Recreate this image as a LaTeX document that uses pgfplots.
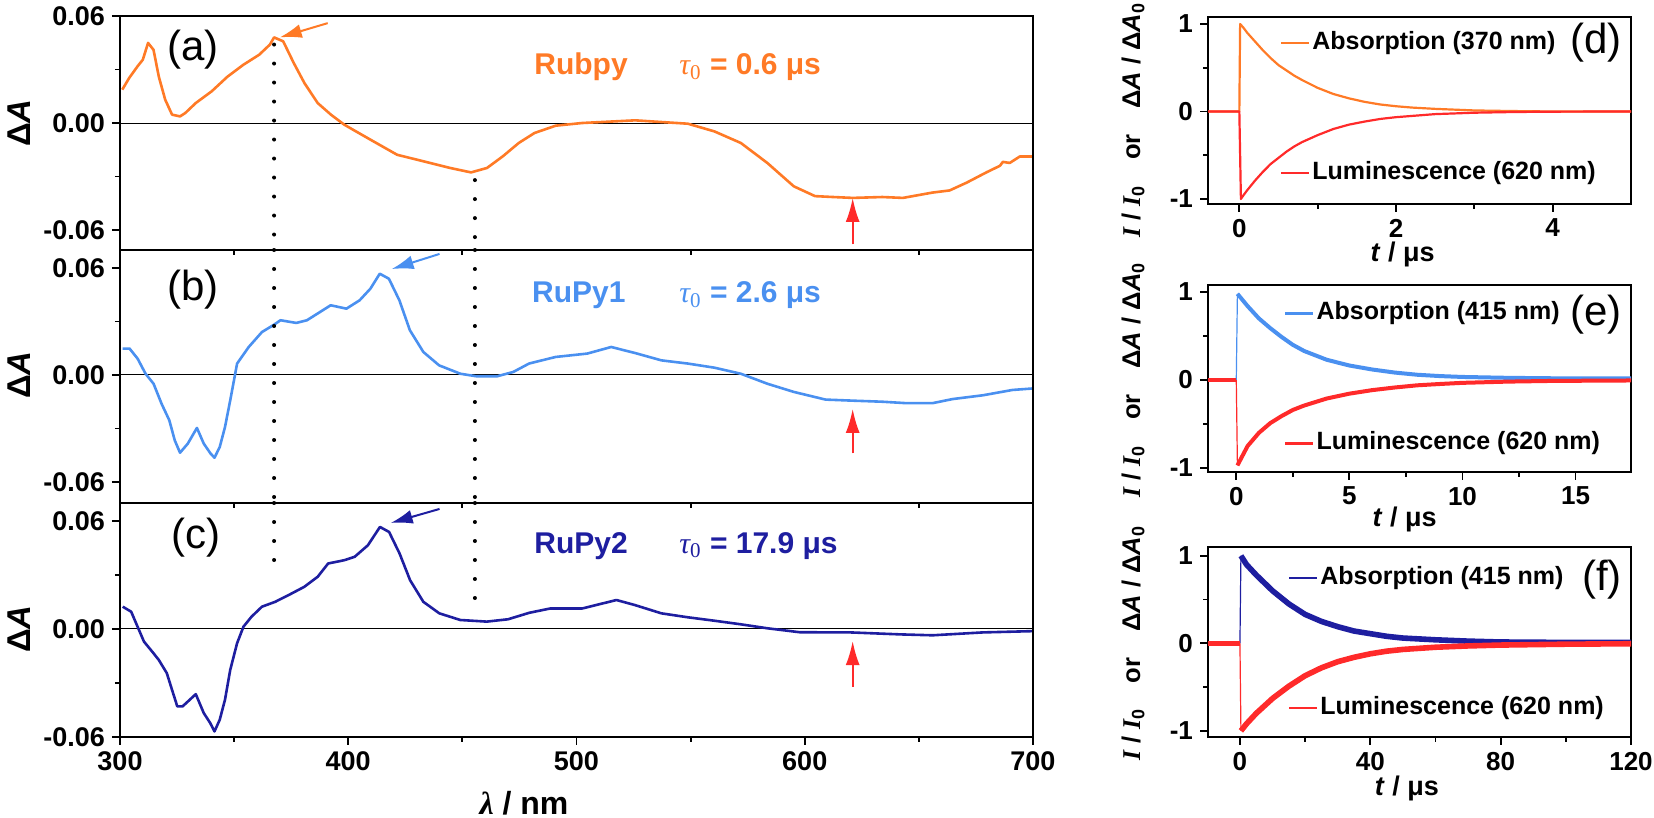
\documentclass[border=0pt]{standalone}
\usepackage{fontspec}
\setmainfont{Liberation Sans}
\newfontfamily\serif{Liberation Serif}
\usepackage{pgfplots}
\pgfplotsset{compat=1.18}
\usetikzlibrary{arrows.meta}

\definecolor{rub}{HTML}{FF7A26}
\definecolor{pyone}{HTML}{4A90F0}
\definecolor{pytwo}{HTML}{1E1EA0}
\definecolor{lum}{HTML}{FF2A2A}

\tikzset{dotl/.style={black, line width=2pt, line cap=round, dash pattern=on 0pt off 9.5pt}}

\pgfplotsset{
 basepanel/.style={scale only axis, clip=false,
   tick align=outside, tick pos=left,
   major tick length=4pt, minor tick length=2.5pt,
   tick style={black, line width=0.9pt},
   /pgf/number format/assume math mode=true,
   every axis plot/.append style={line join=round}},
 lpanel/.style={basepanel, width=456.5pt, xmin=300, xmax=700,
   tick label style={font=\fontsize{13.5}{13.5}\selectfont\bfseries},
   axis line style={line width=1.2pt},
   xtick={300,400,...,700}, minor xtick={350,450,...,650},
   ytick={-0.06,0,0.06}, minor ytick={-0.03,0.03},
   scaled y ticks=false,
   yticklabel style={/pgf/number format/.cd, fixed, fixed zerofill, precision=2}},
 rpanel/.style={basepanel, width=211.5pt,
   tick label style={font=\fontsize{13}{13}\selectfont\bfseries},
   axis line style={line width=1pt},
   ytick={-1,0,1}, minor ytick={-0.5,0.5},
   legend style={draw=none, fill=none, anchor=west,
     font=\fontsize{12.5}{12.5}\selectfont\bfseries,
     row sep=51.5pt, nodes={inner sep=1pt, text height=9pt, text depth=2.5pt}},
   legend cell align=left,
   legend image code/.code={\draw[#1, line width=1.2pt] (0pt,0pt) -- (14pt,0pt);}},
}

\newcommand{\lettfont}{\fontsize{21}{21}\selectfont}
\newcommand{\namefont}{\fontsize{15}{15}\selectfont\bfseries}
\newcommand{\dA}{\textbf{Δ\textit{A}}}
\newcommand{\rylab}{\bfseries{\serif\itshape I} / {\serif\itshape I}\textsubscript{0}\quad or\quad Δ\textit{A} / Δ\textit{A}\textsubscript{0}}
\newcommand{\tlab}{\textbf{\textit{t} / μs}}
\newcommand{\ryfont}{\fontsize{12.8}{12.8}\selectfont}
\newcommand{\tfont}{\fontsize{13.5}{13.5}\selectfont}

\begin{document}
\begin{tikzpicture}
\path[use as bounding box] (0,0) rectangle (827pt,409pt);

% ---------------- (a) Rubpy ----------------
\begin{axis}[lpanel, at={(60pt,284pt)}, anchor=south west, height=117pt,
  ymin=-0.0712, ymax=0.06, xmajorticks=false, xminorticks=false]
\addplot[black, line width=0.5pt, forget plot] coordinates {(300,0) (700,0)};
\addplot[rub, line width=1.3pt] coordinates {
(301,0.0187) (304,0.0252) (307.7,0.0318) (310,0.0355) (312.3,0.0449) (314.7,0.041)
(317,0.026) (319.8,0.0131) (322.8,0.0047) (326.3,0.0037) (328.6,0.0056) (333.2,0.0112)
(340.2,0.0178) (347.1,0.026) (354.1,0.0327) (361,0.0383) (365.7,0.044) (367.5,0.048)
(371.5,0.0458) (376.1,0.0337) (380.8,0.0224) (386.6,0.0112) (392.4,0.0047) (398.2,-0.0009)
(409.8,-0.0094) (421.4,-0.0178) (433,-0.0215) (444.6,-0.0252) (453.8,-0.0277) (460.8,-0.0252)
(467.7,-0.0187) (474.7,-0.0112) (481.6,-0.0056) (490.9,-0.0015) (502.5,0) (525.7,0.0015)
(548.8,-0.0004) (560.4,-0.0047) (572,-0.0112) (583.6,-0.0224) (595.2,-0.0355) (604.5,-0.041)
(612.4,-0.0415) (621,-0.042) (634,-0.0415) (643,-0.042) (656,-0.039) (663.5,-0.0378)
(671,-0.0334) (679.7,-0.0276) (685.5,-0.024) (686.8,-0.0218) (689.8,-0.0224) (694.2,-0.0188)
(699.5,-0.0188)};
\draw[dotl] (axis cs:367.5,0.044) -- (axis cs:367.5,-0.0712);
\draw[dotl] (axis cs:455.5,-0.032) -- (axis cs:455.5,-0.0712);
\draw[rub, line width=1pt, -{Latex[length=11pt,width=7pt]}] (axis cs:391,0.056) -- (axis cs:370,0.048);
\draw[lum, line width=1pt, -{Latex[length=12pt,width=7pt]}] (axis cs:621,-0.068) -- (axis cs:621,-0.042);
\node[font=\lettfont] at (axis cs:332,0.041) {(a)};
\node[font=\namefont, text=rub, anchor=base] at (axis cs:502,0.027) {Rubpy};
\node[font=\namefont, text=rub, anchor=base west] at (axis cs:542,0.027) {{\serif\mdseries\itshape τ}{\serif\mdseries\textsubscript{0}} = 0.6 μs};
\node[rotate=90, font=\fontsize{16.5}{16.5}\selectfont] at (axis cs:256,0) {\dA};
\end{axis}

% ---------------- (b) RuPy1 ----------------
\begin{axis}[lpanel, at={(60pt,157.5pt)}, anchor=south west, height=126.5pt,
  ymin=-0.0718, ymax=0.0701, xmajorticks=false, xminorticks=false]
\addplot[black, line width=0.5pt, forget plot] coordinates {(300,0) (700,0)};
\addplot[pyone, line width=1.3pt] coordinates {
(301.2,0.0148) (304.2,0.0148) (307.7,0.0092) (311.2,0.0007) (314.7,-0.0049) (318.2,-0.0161)
(321.6,-0.0254) (324,-0.0367) (326.3,-0.0436) (329.7,-0.0385) (333.7,-0.0297) (336.7,-0.0385)
(339.7,-0.0441) (341.4,-0.0464) (343.7,-0.0404) (346,-0.0292) (348.3,-0.0142) (351.3,0.0064)
(356.4,0.0157) (362.2,0.0241) (367.5,0.0282) (370.3,0.0307) (377.2,0.0292) (381.9,0.0307)
(386.5,0.0344) (392.3,0.0391) (399.2,0.0372) (405,0.0419) (409.7,0.0484) (413.8,0.0568)
(417.8,0.054) (422.4,0.0419) (427,0.0251) (432.9,0.0129) (439.8,0.0054) (449.1,0.0007)
(456,-0.0007) (465.3,-0.0007) (472.3,0.0017) (479.2,0.0064) (490.8,0.0101) (504.7,0.012)
(515.2,0.0157) (525.7,0.0123) (537.2,0.0082) (548.8,0.0064) (560.4,0.0041) (572,0.0007)
(583.6,-0.0049) (595.2,-0.0095) (609.1,-0.0138) (621,-0.0144) (634,-0.015) (644.4,-0.0158)
(656,-0.0158) (664.8,-0.0135) (678,-0.0114) (691,-0.0084) (699.5,-0.0076)};
\draw[dotl] (axis cs:367.5,0.0701) -- (axis cs:367.5,-0.0718);
\draw[dotl] (axis cs:455.5,0.0701) -- (axis cs:455.5,-0.0718);
\draw[pyone, line width=1pt, -{Latex[length=11pt,width=7pt]}] (axis cs:440,0.0679) -- (axis cs:419,0.0594);
\draw[lum, line width=1pt, -{Latex[length=12pt,width=7pt]}] (axis cs:621,-0.044) -- (axis cs:621,-0.019);
\node[font=\lettfont] at (axis cs:332,0.0477) {(b)};
\node[font=\namefont, text=pyone, anchor=base] at (axis cs:501,0.0405) {RuPy1};
\node[font=\namefont, text=pyone, anchor=base west] at (axis cs:542,0.0405) {{\serif\mdseries\itshape τ}{\serif\mdseries\textsubscript{0}} = 2.6 μs};
\node[rotate=90, font=\fontsize{16.5}{16.5}\selectfont] at (axis cs:256,0) {\dA};
\end{axis}

% ---------------- (c) RuPy2 ----------------
\begin{axis}[lpanel, at={(60pt,40.5pt)}, anchor=south west, height=117pt,
  ymin=-0.06, ymax=0.070]
\addplot[black, line width=0.5pt, forget plot] coordinates {(300,0) (700,0)};
\addplot[pytwo, line width=1.3pt] coordinates {
(301.2,0.0124) (304.9,0.0096) (307.7,0.0013) (310.5,-0.007) (314.7,-0.0135) (317,-0.0172)
(320.5,-0.0245) (322.8,-0.0338) (325.1,-0.043) (327.4,-0.043) (329.8,-0.0402) (333.2,-0.0362)
(336.7,-0.0467) (339.5,-0.0522) (341.4,-0.0569) (343.7,-0.0504) (346,-0.0393) (348.3,-0.0227)
(351.3,-0.0079) (354.1,0.0013) (357.6,0.0068) (362.2,0.0124) (368,0.0151) (373.8,0.0188)
(380.7,0.0234) (386.6,0.029) (391.2,0.0364) (398.2,0.0382) (402.8,0.0401) (408.6,0.0465)
(413.9,0.0567) (417.9,0.0539) (422.5,0.0419) (427.1,0.0271) (432.9,0.0151) (439.9,0.0087)
(449.1,0.005) (460.7,0.0041) (470,0.0054) (479.3,0.009) (488.5,0.0114) (502.5,0.0114)
(517.5,0.0161) (525.6,0.0133) (537.2,0.0087) (548.8,0.0065) (560.4,0.0046) (572,0.0026)
(583.6,0.0004) (597.8,-0.0018) (620,-0.0019) (642,-0.003) (656,-0.0035) (678,-0.0019)
(699.5,-0.0012)};
\draw[dotl] (axis cs:367.5,0.070) -- (axis cs:367.5,0.029);
\draw[dotl] (axis cs:455.5,0.070) -- (axis cs:455.5,0.0172);
\draw[pytwo, line width=1pt, -{Latex[length=11pt,width=7pt]}] (axis cs:440,0.0667) -- (axis cs:418.6,0.0589);
\draw[lum, line width=1pt, -{Latex[length=12pt,width=7pt]}] (axis cs:621,-0.032) -- (axis cs:621,-0.0067);
\node[font=\lettfont] at (axis cs:333.3,0.0506) {(c)};
\node[font=\namefont, text=pytwo, anchor=base] at (axis cs:502,0.042) {RuPy2};
\node[font=\namefont, text=pytwo, anchor=base west] at (axis cs:542,0.042) {{\serif\mdseries\itshape τ}{\serif\mdseries\textsubscript{0}} = 17.9 μs};
\node[rotate=90, font=\fontsize{16.5}{16.5}\selectfont] at (axis cs:256,0) {\dA};
\node[font=\fontsize{16}{16}\selectfont\bfseries] at (axis cs:477,-0.0967) {{\serif\itshape λ} / nm};
\end{axis}

% ---------------- (d) ----------------
\begin{axis}[rpanel, at={(604pt,307pt)}, anchor=south west, height=93.5pt,
  xmin=-0.4, xmax=5, ymin=-1.057, ymax=1.08,
  xtick={0,2,4}, minor xtick={1,3},
  legend style={at={(0.155,0.513)}}]
\addplot[rub, line width=1.1pt] coordinates {
(-0.4,0) (-0.2,0) (0,0) (0.01,1.0) (0.05,0.96) (0.1,0.9) (0.2,0.8) (0.3,0.7) (0.4,0.61)
(0.5,0.53) (0.6,0.47) (0.7,0.41) (0.8,0.36) (1.0,0.27) (1.2,0.2) (1.4,0.15) (1.6,0.11)
(1.8,0.08) (2.0,0.06) (2.2,0.045) (2.5,0.03) (3.0,0.012) (3.5,0.005) (4.0,0) (5.0,0)};
\addlegendentry{Absorption (370 nm)}
\addplot[lum, line width=1.1pt] coordinates {
(-0.4,0) (0,0) (0.02,-1.0) (0.05,-0.96) (0.1,-0.9) (0.2,-0.79) (0.3,-0.69) (0.4,-0.6)
(0.5,-0.53) (0.6,-0.46) (0.7,-0.4) (0.8,-0.35) (1.0,-0.27) (1.2,-0.2) (1.4,-0.15)
(1.6,-0.115) (1.8,-0.085) (2.0,-0.065) (2.5,-0.03) (3.0,-0.014) (3.5,-0.006) (4.0,-0.002) (5.0,0)};
\addlegendentry{Luminescence (620 nm)}
\node[font=\lettfont, anchor=east] at (rel axis cs:0.995,0.861) {(d)};
\node[rotate=90, font=\ryfont] at (axis cs:-1.356,-0.1) {\rylab};
\node[font=\tfont] at (rel axis cs:0.46,-0.272) {\tlab};
\end{axis}

% ---------------- (e) ----------------
\begin{axis}[rpanel, at={(604pt,173pt)}, anchor=south west, height=93.5pt,
  xmin=-1.25, xmax=17.45, ymin=-1.045, ymax=1.08,
  xtick={0,5,10,15}, minor xtick={2.5,7.5,12.5},
  legend style={at={(0.165,0.5)}}]
\addplot[pyone, line width=2pt, forget plot] coordinates {(-1.25,0) (0,0)};
\addplot[pyone, line width=0.6pt, forget plot] coordinates {(0,0) (0.05,0.98)};
\addplot[pyone, line width=2pt] coordinates {
(0.05,0.98) (0.5,0.84) (1,0.7) (1.5,0.59) (2,0.49) (2.5,0.4) (3,0.33) (3.5,0.28) (4,0.23)
(5,0.165) (6,0.12) (7,0.085) (8,0.06) (9,0.045) (10,0.035) (11,0.03) (12,0.025) (14,0.02) (17.45,0.02)};
\addlegendentry{Absorption (415 nm)}
\addplot[lum, line width=2pt, forget plot] coordinates {(-1.25,0) (0,0)};
\addplot[lum, line width=0.6pt, forget plot] coordinates {(0,0) (0.05,-0.97)};
\addplot[lum, line width=2pt] coordinates {
(0.05,-0.97) (0.5,-0.75) (1,-0.6) (1.5,-0.49) (2,-0.41) (2.5,-0.34) (3,-0.29) (3.5,-0.25)
(4,-0.21) (5,-0.155) (6,-0.115) (7,-0.085) (8,-0.06) (9,-0.045) (10,-0.032) (12,-0.018)
(14,-0.01) (17.45,-0.005)};
\addlegendentry{Luminescence (620 nm)}
\node[font=\lettfont, anchor=east] at (rel axis cs:0.995,0.84) {(e)};
\node[rotate=90, font=\ryfont] at (axis cs:-4.56,0) {\rylab};
\node[font=\tfont] at (rel axis cs:0.465,-0.255) {\tlab};
\end{axis}

% ---------------- (f) ----------------
\begin{axis}[rpanel, at={(604pt,40.5pt)}, anchor=south west, height=95pt,
  xmin=-9.8, xmax=120, ymin=-1.07, ymax=1.10,
  xtick={0,40,80,120}, minor xtick={20,60,100},
  legend style={at={(0.174,0.495)}}]
\addplot[pytwo, line width=2.8pt, forget plot] coordinates {(-9.8,0) (0,0)};
\addplot[pytwo, line width=0.6pt, forget plot] coordinates {(0,0) (0.3,1.0)};
\addplot[pytwo, line width=2.8pt] coordinates {
(0.3,1.0) (2,0.9) (5,0.78) (10,0.6) (15,0.45) (20,0.33) (25,0.25) (30,0.19) (35,0.14)
(40,0.11) (45,0.08) (50,0.06) (60,0.04) (70,0.025) (80,0.015) (100,0.01) (120,0.01)};
\addlegendentry{Absorption (415 nm)}
\addplot[lum, line width=2.8pt, forget plot] coordinates {(-9.8,0) (0,0)};
\addplot[lum, line width=0.6pt, forget plot] coordinates {(0,0) (0.3,-1.0)};
\addplot[lum, line width=2.8pt] coordinates {
(0.3,-1.0) (2,-0.92) (5,-0.8) (10,-0.63) (15,-0.49) (20,-0.37) (25,-0.28) (30,-0.21)
(35,-0.16) (40,-0.12) (45,-0.09) (50,-0.07) (60,-0.045) (70,-0.03) (80,-0.02) (100,-0.01) (120,-0.005)};
\addlegendentry{Luminescence (620 nm)}
\node[font=\lettfont, anchor=east] at (rel axis cs:0.995,0.83) {(f)};
\node[rotate=90, font=\ryfont] at (axis cs:-32.8,0) {\rylab};
\node[font=\tfont] at (rel axis cs:0.47,-0.272) {\tlab};
\end{axis}
\end{tikzpicture}
\end{document}
